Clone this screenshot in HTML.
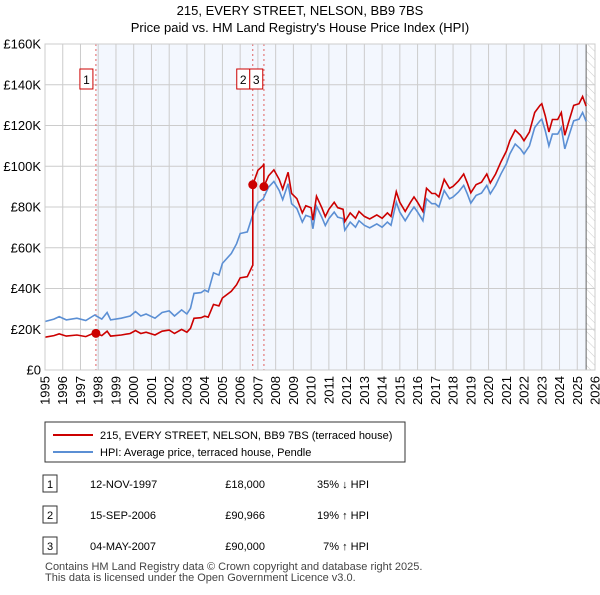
<!DOCTYPE html>
<html><head><meta charset="utf-8"><style>
body{margin:0;background:#fff;font-family:"Liberation Sans",sans-serif;}
svg text{font-family:"Liberation Sans",sans-serif;}
</style></head><body>
<svg id="c" width="600" height="590" xmlns="http://www.w3.org/2000/svg">
<defs><pattern id="hatch" width="6" height="6" patternUnits="userSpaceOnUse" patternTransform="rotate(-45)"><line x1="0" y1="0" x2="0" y2="6" stroke="#ccc" stroke-width="1"/></pattern></defs>
<text x="300" y="15" text-anchor="middle" font-size="13">215, EVERY STREET, NELSON, BB9 7BS</text>
<text x="300" y="32" text-anchor="middle" font-size="13">Price paid vs. HM Land Registry's House Price Index (HPI)</text>
<g id="plot"></g>
<g id="legend">
<rect x="45" y="422" width="360" height="40" fill="#fff" stroke="#333" stroke-width="1"/>
<line x1="53" y1="435" x2="93" y2="435" stroke="#cc0000" stroke-width="2"/>
<text x="100" y="439" font-size="11">215, EVERY STREET, NELSON, BB9 7BS (terraced house)</text>
<line x1="53" y1="452" x2="93" y2="452" stroke="#5b8fd4" stroke-width="2"/>
<text x="100" y="456" font-size="11">HPI: Average price, terraced house, Pendle</text>
</g>
<g id="table" font-size="11"></g>
<text x="45" y="570" font-size="11" fill="#444">Contains HM Land Registry data © Crown copyright and database right 2025.</text>
<text x="45" y="581" font-size="11" fill="#444">This data is licensed under the Open Government Licence v3.0.</text>
</svg>
<script>
const hpiYears=[1995.0,1995.5,1995.8,1996.2,1996.8,1997.3,1997.8,1998.2,1998.5,1998.7,1999.3,1999.8,2000.1,2000.4,2000.7,2001.2,2001.6,2002.0,2002.3,2002.7,2003.0,2003.2,2003.4,2003.8,2004.0,2004.2,2004.5,2004.8,2005.0,2005.5,2005.8,2006.0,2006.4,2006.7,2007.0,2007.3,2007.6,2007.9,2008.2,2008.4,2008.7,2008.9,2009.2,2009.5,2009.7,2010.0,2010.1,2010.3,2010.6,2010.8,2011.0,2011.3,2011.5,2011.8,2011.9,2012.2,2012.5,2012.7,2013.0,2013.3,2013.7,2014.0,2014.3,2014.5,2014.8,2015.0,2015.3,2015.6,2015.8,2016.0,2016.3,2016.5,2016.8,2017.0,2017.2,2017.5,2017.8,2018.0,2018.3,2018.6,2018.8,2019.0,2019.3,2019.6,2019.9,2020.1,2020.4,2020.7,2021.0,2021.2,2021.5,2021.8,2022.0,2022.3,2022.6,2022.9,2023.0,2023.2,2023.4,2023.6,2023.9,2024.1,2024.3,2024.5,2024.8,2025.1,2025.3,2025.5];
const hpiValues=[23.8,25,26.2,24.6,25.4,24.3,27,25,28.2,24.6,25.4,26.5,28.7,26.5,27.5,25.4,28.2,29,26.5,29.5,27.5,30.3,37.6,38,39.2,38.4,47.7,46.6,52.3,57.2,62,67,67.8,75.9,82,84,89.7,92.5,88.1,83.6,91.4,81.6,79.2,72.6,75.9,75,69.3,80.3,75,70.9,74.3,77.5,75,74.3,68.6,72.6,70.1,73.3,71,69.8,71.7,70.1,72.6,71,82.4,77.5,73.3,77.5,80,77.5,73.3,84,81.6,81.6,80,88.1,84,84.9,87.3,90.6,86.5,81.9,85.7,86.8,90.6,86.5,90.6,96.3,101.1,106,110.9,108.5,106,110,119,122.3,123.1,117.4,110,115.8,115.8,119,108.5,114.2,122.3,123.1,126.4,122];
const saleYears=[1997.87,2006.71,2007.34];
const salePrices=[18,90.966,90];
const saleLabels=["1","2","3"];
const saleDates=["12-NOV-1997","15-SEP-2006","04-MAY-2007"];
const salePriceText=["£18,000","£90,966","£90,000"];
const saleHpiText=["35% ↓ HPI","19% ↑ HPI","7% ↑ HPI"];
const yTicks=[0,20,40,60,80,100,120,140,160];
const yTickLabels=["£0","£20K","£40K","£60K","£80K","£100K","£120K","£140K","£160K"];
const xTicks=[1995,1996,1997,1998,1999,2000,2001,2002,2003,2004,2005,2006,2007,2008,2009,2010,2011,2012,2013,2014,2015,2016,2017,2018,2019,2020,2021,2022,2023,2024,2025,2026];

const NS="http://www.w3.org/2000/svg";
const L=45,R=595,T=44,B=370,X0=1995,X1=2026,YMAX=160;
const xs=y=>L+(y-X0)/(X1-X0)*(R-L);
const ys=v=>B-v/YMAX*(B-T);
function mk(tag,attrs,parent){const e=document.createElementNS(NS,tag);for(const k in attrs)e.setAttribute(k,attrs[k]);parent.appendChild(e);return e;}
const g=document.getElementById('plot');
const hpiAt=t=>{for(let i=0;i<hpiYears.length-1;i++){if(t<=hpiYears[i+1]){const f=(t-hpiYears[i])/(hpiYears[i+1]-hpiYears[i]);return hpiValues[i]+f*(hpiValues[i+1]-hpiValues[i]);}}return hpiValues[hpiValues.length-1];};
const endYear=hpiYears[hpiYears.length-1];
let r=mk('rect',{x:L,y:T,width:R-L,height:B-T,fill:'#fff'},g);


r=mk('rect',{x:xs(saleYears[0]),y:T,width:xs(endYear)-xs(saleYears[0]),height:B-T,fill:'#f3f7fe'},g);


r=mk('rect',{x:xs(endYear),y:T,width:R-xs(endYear),height:B-T,fill:'url(#hatch)'},g);


xTicks.forEach(t=>{let l=mk('line',{x1:xs(t),x2:xs(t),y1:T,y2:B,stroke:'#cccccc','stroke-width':1},g);


let tx=mk('text',{x:0,y:0,'font-size':13,'text-anchor':'end',transform:`translate(${xs(t)+4.5},${B+6}) rotate(-90)`},g);tx.textContent=t;

});
yTicks.forEach((t,i)=>{let l=mk('line',{x1:L,x2:R,y1:ys(t),y2:ys(t),stroke:'#cccccc','stroke-width':1},g);


let tx=mk('text',{x:L-4,y:ys(t)+4.5,'font-size':13,'text-anchor':'end'},g);tx.textContent=yTickLabels[i];

});
let el=mk('line',{x1:xs(endYear),x2:xs(endYear),y1:T,y2:B,stroke:'#666','stroke-width':1},g);


saleYears.forEach((s,i)=>{let l=mk('line',{x1:xs(s),x2:xs(s),y1:T,y2:B,stroke:'#e06060','stroke-width':1,'stroke-dasharray':'2,3'},g);

});
let d=hpiYears.map((t,i)=>(i?'L':'M')+xs(t).toFixed(1)+','+ys(hpiValues[i]).toFixed(1)).join('');
let p=mk('path',{d:d,fill:'none',stroke:'#5b8fd4','stroke-width':1.6},g);


const pts=[];
const seg=t=>{let k=0;for(let i=0;i<saleYears.length;i++)if(t>=saleYears[i])k=i;return k;};
const factors=saleYears.map((s,i)=>salePrices[i]/hpiAt(s));
hpiYears.forEach((t,i)=>{if(i>0){saleYears.forEach((s,j)=>{if(j>0&&s>hpiYears[i-1]&&s<=t){pts.push([s,hpiAt(s)*factors[j-1]]);pts.push([s,salePrices[j]]);}});}
pts.push([t,hpiValues[i]*factors[seg(t)]]);});
d=pts.map((q,i)=>(i?'L':'M')+xs(q[0]).toFixed(1)+','+ys(q[1]).toFixed(1)).join('');
p=mk('path',{d:d,fill:'none',stroke:'#cc0000','stroke-width':1.6},g);


let prevBox=-100;
saleYears.forEach((s,i)=>{let c=mk('circle',{cx:xs(s),cy:ys(salePrices[i]),r:4.5,fill:'#cc0000'},g);


let bx=xs(s)-16;
if(bx<prevBox+13)bx=prevBox+13;
prevBox=bx;
let b=mk('rect',{x:bx,y:69,width:13,height:20,fill:'#fff',stroke:'#cc0000','stroke-width':1},g);


let tx=mk('text',{x:bx+6.5,y:84,'font-size':12,'text-anchor':'middle'},g);tx.textContent=saleLabels[i];

});
let ax=mk('rect',{x:L,y:T,width:R-L,height:B-T,fill:'none',stroke:'#cccccc'},g);


const tb=document.getElementById('table');
saleLabels.forEach((lab,i)=>{const y=487+i*31;
let b=mk('rect',{x:43,y:y-12,width:14,height:17,fill:'#fff',stroke:'#333'},tb);


let t=mk('text',{x:50,y:y+1,'text-anchor':'middle'},tb);t.textContent=lab;


t=mk('text',{x:90,y:y+1},tb);t.textContent=saleDates[i];


t=mk('text',{x:265,y:y+1,'text-anchor':'end'},tb);t.textContent=salePriceText[i];


t=mk('text',{x:369,y:y+1,'text-anchor':'end'},tb);t.textContent=saleHpiText[i];

});
</script>
</body></html>
